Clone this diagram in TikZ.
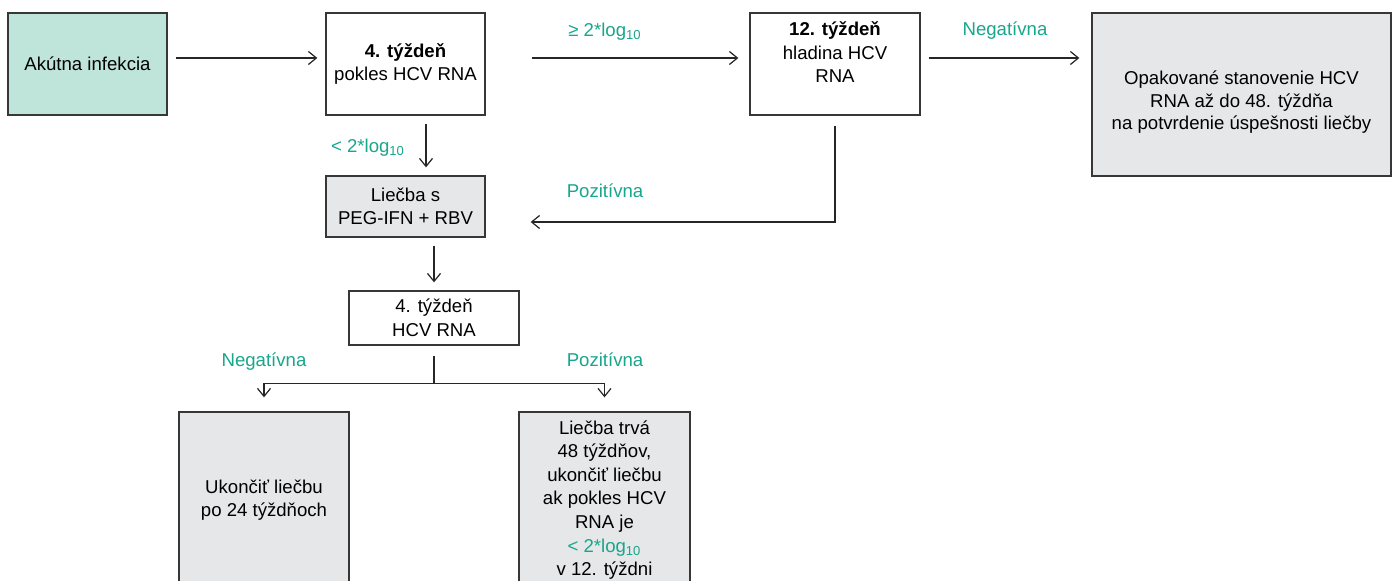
\documentclass[tikz,border=0pt]{standalone}
\usepackage{fontspec}
\setmainfont{Liberation Sans}
\usetikzlibrary{arrows.meta,calc}
\definecolor{teal1}{RGB}{24,166,140}
\definecolor{tealfill}{RGB}{191,228,218}
\definecolor{grayfill}{RGB}{230,231,232}
\definecolor{edge}{RGB}{55,55,55}
\tikzset{
  box/.style={draw=edge, line width=0.65pt, align=center, inner sep=1pt,
    font=\fontsize{9.3}{11.8}\selectfont},
  lbl/.style={text=teal1, font=\fontsize{9.3}{11.8}\selectfont, anchor=base, inner sep=0pt},
  conn/.style={draw=black!85, line width=0.6pt},
  arr/.style={conn, -{Straight Barb[length=4pt,width=6.5pt,line width=0.6pt]}},
}
\begin{document}
\begin{tikzpicture}[x=0.5pt,y=-0.5pt]
\useasboundingbox (0,0) rectangle (1392,581);
\clip (0,0) rectangle (1392,581);
\fill[white] (0,0) rectangle (1392,581);
% boxes
\node[box, fill=tealfill, minimum width=79.5pt, minimum height=51pt] (ak) at (87.5,64) {Akútna infekcia};
\node[box, fill=white, minimum width=79.5pt, minimum height=51pt] (w4) at (405.5,64) {\textbf{4. týždeň}\\pokles HCV RNA};
\node[box, fill=white, minimum width=85pt, minimum height=51pt] (w12) at (835,64) {\textbf{12. týždeň}\\hladina HCV\\RNA\\~};
\node[box, fill=grayfill, minimum width=149.5pt, minimum height=81.5pt, font=\fontsize{9.3}{11.2}\selectfont] (op) at (1241.5,94.5) {\\[3.6pt]Opakované stanovenie HCV\\RNA až do 48. týždňa\\na potvrdenie úspešnosti liečby};
\node[box, fill=grayfill, minimum width=79.5pt, minimum height=30.5pt] (lie) at (405.5,206.5) {Liečba s\\PEG-IFN + RBV};
\node[box, fill=white, minimum width=85pt, minimum height=27pt] (h4) at (434,318) {4. týždeň\\HCV RNA};
\node[box, fill=grayfill, minimum width=85pt, minimum height=88pt] (uk) at (264,500) {Ukončiť liečbu\\po 24 týždňoch};
\node[box, fill=grayfill, minimum width=85.5pt, minimum height=88pt] (lt) at (604.5,500) {Liečba trvá\\48 týždňov,\\ukončiť liečbu\\ak pokles HCV\\RNA je\\\textcolor{teal1}{< 2*log\textsubscript{10}}\\v 12. týždni};
% connectors
\draw[arr, shorten <=4pt, shorten >=4pt] ([yshift=3pt]ak.east) -- ([yshift=3pt]w4.west);
\draw[arr, shorten <=23pt, shorten >=5.5pt] ([yshift=3pt]w4.east) -- ([yshift=3pt]w12.west);
\draw[arr, shorten <=4pt, shorten >=6pt] ([yshift=3pt]w12.east) -- ([yshift=3pt]w12.east -| op.west);
\draw[arr, shorten <=4pt, shorten >=4pt] ([xshift=10.25pt]w4.south) -- ([xshift=10.25pt]w4.south |- lie.north);
\draw[arr, shorten <=5pt] (w12.south) |- ([yshift=-7.75pt,xshift=22.5pt]lie.east);
\draw[arr, shorten <=4pt, shorten >=4pt] (lie.south -| h4.north) -- (h4.north);
\coordinate (sp) at ($(h4.south)+(0,38)$);
\draw[conn, shorten <=5pt] (h4.south) -- (sp);
\draw[arr, shorten >=7pt] (sp) -| (uk.north);
\draw[arr, shorten >=7pt] (sp) -| (lt.north);
% labels
\node[lbl] (l1) at (605,37) {≥ 2*log\textsubscript{10}};
\node[lbl] (l2) at (1005,36) {Negatívna};
\node[lbl] (l3) at (368,153) {< 2*log\textsubscript{10}};
\node[lbl] (l4) at (605,198) {Pozitívna};
\node[lbl] (l5) at (264,367) {Negatívna};
\node[lbl] (l6) at (605,367) {Pozitívna};
\end{tikzpicture}
\end{document}
